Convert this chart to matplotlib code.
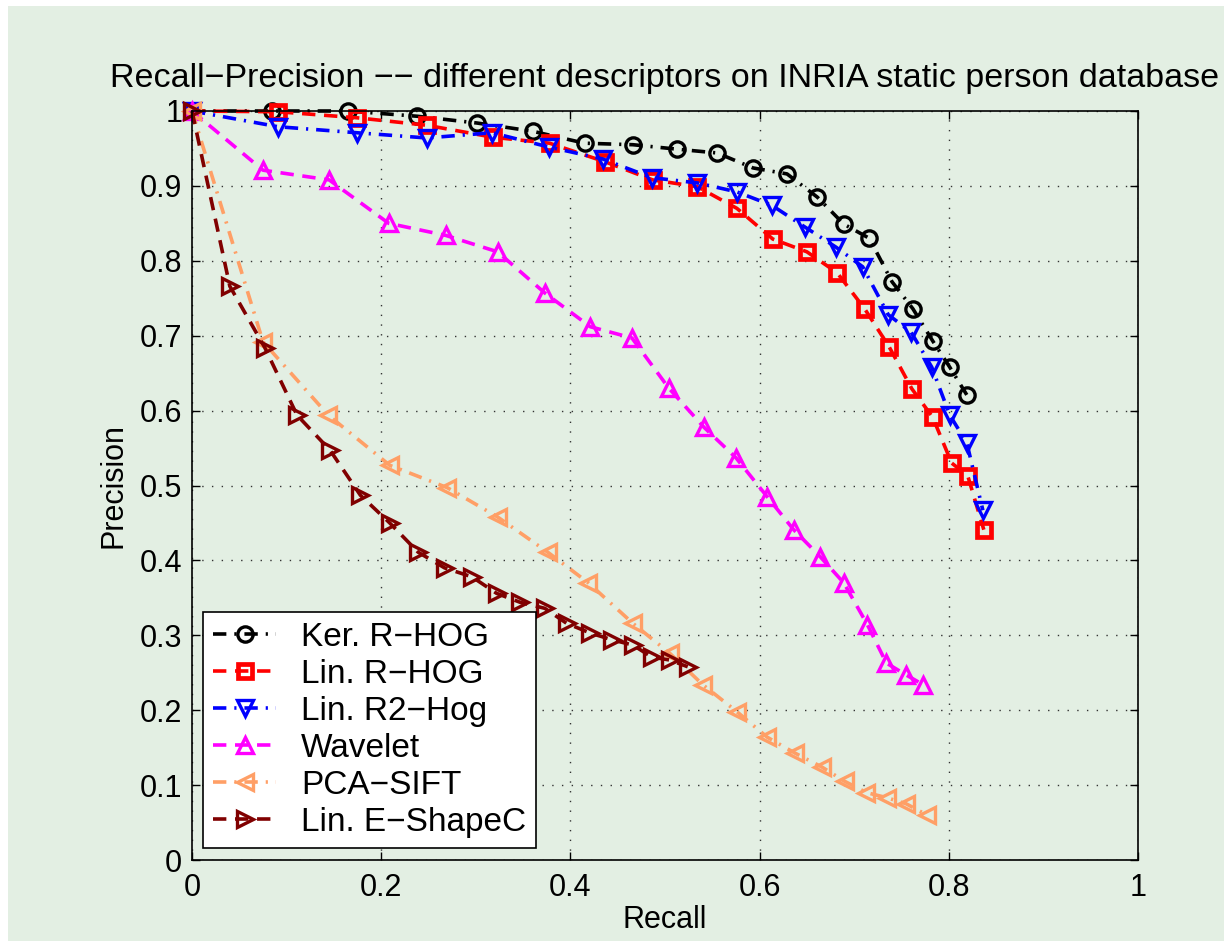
import matplotlib
matplotlib.use('Agg')
import matplotlib.pyplot as plt
from matplotlib.patches import Rectangle

plt.rcParams['font.family'] = ['Liberation Sans', 'DejaVu Sans']

# recall / precision values
ker_rhog_r = [0.0, 0.085, 0.165, 0.238, 0.301, 0.360, 0.415, 0.466, 0.513, 0.555,
              0.593, 0.629, 0.661, 0.689, 0.716, 0.740, 0.762, 0.783, 0.801, 0.819]
ker_rhog_p = [1.0, 1.0, 1.0, 0.993, 0.984, 0.973, 0.957, 0.955, 0.949, 0.944,
              0.924, 0.916, 0.885, 0.849, 0.830, 0.772, 0.736, 0.693, 0.658, 0.621]

lin_rhog_r = [0.0, 0.091, 0.174, 0.248, 0.318, 0.378, 0.437, 0.487, 0.534, 0.576,
              0.614, 0.650, 0.682, 0.711, 0.737, 0.761, 0.783, 0.803, 0.820, 0.837]
lin_rhog_p = [1.0, 0.999, 0.991, 0.981, 0.965, 0.957, 0.932, 0.908, 0.899, 0.870,
              0.829, 0.812, 0.784, 0.736, 0.685, 0.629, 0.591, 0.530, 0.513, 0.441]

lin_r2hog_r = [0.0, 0.091, 0.174, 0.248, 0.317, 0.377, 0.434, 0.486, 0.534, 0.576,
               0.613, 0.648, 0.681, 0.709, 0.736, 0.760, 0.782, 0.801, 0.819, 0.836]
lin_r2hog_p = [1.0, 0.979, 0.971, 0.964, 0.971, 0.952, 0.936, 0.911, 0.904, 0.892,
               0.874, 0.845, 0.818, 0.792, 0.728, 0.705, 0.658, 0.594, 0.557, 0.467]

wavelet_r = [0.0, 0.075, 0.145, 0.208, 0.268, 0.323, 0.373, 0.421, 0.465, 0.504,
             0.541, 0.575, 0.608, 0.636, 0.664, 0.689, 0.714, 0.734, 0.755, 0.773]
wavelet_p = [1.0, 0.921, 0.908, 0.850, 0.834, 0.812, 0.757, 0.712, 0.697, 0.630,
             0.578, 0.537, 0.485, 0.441, 0.405, 0.370, 0.314, 0.263, 0.247, 0.234]

pcasift_r = [0.0, 0.075, 0.144, 0.209, 0.270, 0.323, 0.376, 0.419, 0.466, 0.505,
             0.540, 0.576, 0.608, 0.637, 0.666, 0.690, 0.713, 0.735, 0.755, 0.777]
pcasift_p = [1.0, 0.692, 0.594, 0.527, 0.497, 0.458, 0.411, 0.370, 0.316, 0.276,
             0.234, 0.198, 0.164, 0.143, 0.124, 0.105, 0.090, 0.083, 0.075, 0.060]

shapec_r = [0.0, 0.040, 0.077, 0.111, 0.146, 0.178, 0.209, 0.239, 0.267, 0.296,
            0.322, 0.347, 0.373, 0.396, 0.421, 0.444, 0.466, 0.486, 0.505, 0.524]
shapec_p = [1.0, 0.766, 0.684, 0.594, 0.547, 0.487, 0.450, 0.411, 0.390, 0.378,
            0.356, 0.344, 0.336, 0.316, 0.303, 0.294, 0.287, 0.271, 0.267, 0.258]

labels = ['Ker. R\u2212HOG', 'Lin. R\u2212HOG', 'Lin. R2\u2212Hog', 'Wavelet',
          'PCA\u2212SIFT', 'Lin. E\u2212ShapeC']
yticks = [0, 0.1, 0.2, 0.3, 0.4, 0.5, 0.6, 0.7, 0.8, 0.9, 1]
xticks = [0, 0.2, 0.4, 0.6, 0.8, 1]

bg = '#e3efe3'
fig = plt.figure(figsize=(12.24, 9.42), dpi=100, facecolor='white')
fig.patches.append(Rectangle((8/1224, 1/942), 1, 935/942, transform=fig.transFigure,
                             facecolor=bg, edgecolor='none', zorder=-10))
ax = fig.add_axes([192/1224, 1 - 860/942, 946/1224, 749/942])
ax.set_facecolor(bg)

lw = 2.6
ms = 11
mew = 2.4
dashed = (0, (3.7, 2.4))
dashdot = (0, (3.7, 2.2, 0.6, 2.2))
ax.plot(ker_rhog_r, ker_rhog_p, color='black', ls=dashdot, lw=lw, marker='o', ms=ms,
        mfc='none', mew=mew, clip_on=False, label=labels[0])
ax.plot(lin_rhog_r, lin_rhog_p, color='red', ls=dashed, lw=lw, marker='s', ms=ms-1.5,
        mfc='none', mew=mew+1, clip_on=False, label=labels[1])
ax.plot(lin_r2hog_r, lin_r2hog_p, color='blue', ls=dashdot, lw=lw, marker='v', ms=ms+1,
        mfc='none', mew=mew, clip_on=False, label=labels[2])
ax.plot(wavelet_r, wavelet_p, color='#ff00ff', ls=dashed, lw=lw, marker='^', ms=ms+1,
        mfc='none', mew=mew, clip_on=False, label=labels[3])
ax.plot(pcasift_r, pcasift_p, color='#ff9f66', ls=dashdot, lw=lw, marker='<', ms=ms+1,
        mfc='none', mew=mew, clip_on=False, label=labels[4])
ax.plot(shapec_r, shapec_p, color='#800000', ls=dashed, lw=lw, marker='>', ms=ms+1,
        mfc='none', mew=mew, clip_on=False, label=labels[5])

ax.set_xlim(0, 1)
ax.set_ylim(0, 1)
ax.set_xticks(xticks)
ax.set_xticklabels(['%g' % v for v in xticks])
ax.set_yticks(yticks)
ax.set_yticklabels(['%g' % v for v in yticks])
ax.tick_params(direction='in', length=6, width=1, top=True, right=True, labelsize=22)
ax.tick_params(axis='x', pad=9)
ax.tick_params(axis='y', pad=7)
ax.grid(True, color='#333333', ls=(0, (1, 6)), lw=1)
for s in ax.spines.values():
    s.set_linewidth(1.2)

ax.set_xlabel('Recall', fontsize=22, labelpad=2)
ax.set_ylabel('Precision', fontsize=22, labelpad=8)
ax.set_title('Recall\u2212Precision \u2212\u2212 different descriptors on INRIA static person database',
             fontsize=24.5, pad=17)

leg = ax.legend(loc='lower left', bbox_to_anchor=(0.0116, 0.016), borderaxespad=0,
                fontsize=24, handlelength=1.9, handletextpad=0.75, labelspacing=0.18,
                borderpad=0.3, fancybox=False, framealpha=1, edgecolor='black')
leg.get_frame().set_linewidth(1.2)

fig.savefig('out.png', dpi=100, facecolor=fig.get_facecolor())
